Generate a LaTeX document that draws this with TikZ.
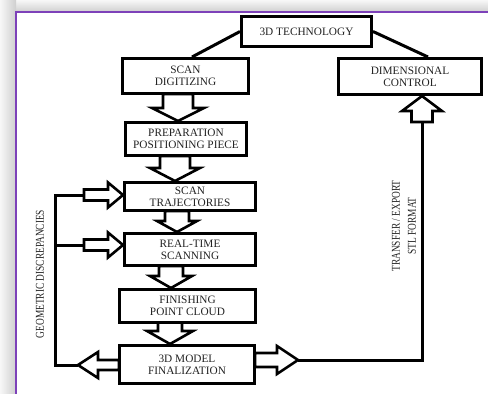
\documentclass[tikz,border=0pt]{standalone}
\usepackage{fontspec}
\usetikzlibrary{calc}
\newfontfamily\boxfont{Liberation Serif}
\newfontfamily\condfont[FakeStretch=0.78]{Liberation Serif}
\definecolor{framepurple}{RGB}{125,65,185}
\definecolor{inkgray}{RGB}{35,35,35}
\pgfdeclarelayer{bg}
\pgfdeclarelayer{mid}
\pgfsetlayers{bg,mid,main}
\tikzset{
  box/.style={draw=black, line width=3pt, fill=white, align=center, inner sep=0pt,
    text=inkgray, font={\boxfont\fontsize{11.3}{12}\selectfont}},
  hollow/.style={draw=black, line width=2.6pt, fill=white, line join=miter},
  conn/.style={draw=black, line width=3pt},
  rotlabel/.style={rotate=90, align=center, text=inkgray, inner sep=0pt,
    font={\condfont\fontsize{12}{16}\selectfont}},
}
\begin{document}
\begin{tikzpicture}[x=1pt,y=-1pt]
\useasboundingbox (0,0) rectangle (488,394);
\begin{pgfonlayer}{bg}
  \fill[white] (-4,-4) rectangle (494,400);
  \shade[top color=gray!6, bottom color=gray!38] (0,0) rectangle (488,12);
  \shade[left color=gray!6, right color=gray!38] (0,0) rectangle (16,394);
  \draw[framepurple, line width=1.8pt] (16,398) -- (16,12) -- (494,12);
\end{pgfonlayer}

% boxes
\node[box, minimum width=130pt, minimum height=30pt] (tech) at (306.5,31.5) {3D TECHNOLOGY};
\node[box, minimum width=126pt, minimum height=35pt] (scan) at (185.5,76) {SCAN\\DIGITIZING};
\node[box, minimum width=143pt, minimum height=36pt] (dim) at (410,76.5) {DIMENSIONAL\\CONTROL};
\node[box, minimum width=121pt, minimum height=33pt] (prep) at (186,139) {PREPARATION\\POSITIONING PIECE};
\node[box, minimum width=131pt, minimum height=28pt] (traj) at (190,196.5) {SCAN\\TRAJECTORIES};
\node[box, minimum width=131pt, minimum height=32pt] (real) at (190,249.5) {REAL-TIME\\SCANNING};
\node[box, minimum width=136pt, minimum height=33pt] (fin) at (187.5,306) {FINISHING\\POINT CLOUD};
\node[box, minimum width=135pt, minimum height=38pt] (model) at (187,364.5) {3D MODEL\\FINALIZATION};

% labels
\node[rotlabel] (geo) at (40,274) {GEOMETRIC DISCREPANCIES};
\node[rotlabel] (stl) at (404,226) {TRANSFER / EXPORT\\STL FORMAT};

% helper coordinates
\coordinate (a6tail) at ($(traj.west)+(-39,-1.5)$);
\coordinate (a7tail) at ($(real.west)+(-39,-4.5)$);
\coordinate (mtip) at ($(model.west)+(-40,0.5)$);
\coordinate (fbcorner) at (55,365);
\coordinate (fbtop) at (55,195);
\coordinate (rtip) at ($(model.east)+(42,-4.5)$);
\coordinate (dbot) at ($(dim.south)+(12,26)$);

\begin{pgfonlayer}{mid}
  % connectors from 3D technology
  \draw[conn] (tech.west) -- ($(scan.north)+(6.5,0)$);
  \draw[conn] (tech.east) -- ($(dim.north)+(18,0)$);

  % downward block arrows
  \draw[hollow] ($(prep.north)+(-8,0)$) -- ++(-26,-13) -- ++(11,0) -- ++(0,-14) -- ++(30,0) -- ++(0,14) -- ++(11,0) -- cycle;
  \draw[hollow] ($(traj.north)+(-15,0)$) -- ++(-25,-13) -- ++(10,0) -- ++(0,-12) -- ++(30,0) -- ++(0,12) -- ++(10,0) -- cycle;
  \draw[hollow] ($(real.north)+(-13,0)$) -- ++(-20,-11) -- ++(8,0) -- ++(0,-10) -- ++(24,0) -- ++(0,10) -- ++(8,0) -- cycle;
  \draw[hollow] ($(fin.north)+(-16.5,0)$) -- ++(-21,-12) -- ++(9,0) -- ++(0,-10) -- ++(24,0) -- ++(0,10) -- ++(9,0) -- cycle;
  \draw[hollow] ($(model.north)+(-17,0)$) -- ++(-23,-13) -- ++(11,0) -- ++(0,-9) -- ++(24,0) -- ++(0,9) -- ++(11,0) -- cycle;

  % feedback arrows into the boxes
  \draw[hollow] ($(traj.west)+(0,-1.5)$) -- ++(-15,-12.5) -- ++(0,7) -- ++(-24,0) -- ++(0,11) -- ++(24,0) -- ++(0,7) -- cycle;
  \draw[hollow] ($(real.west)+(0,-4.5)$) -- ++(-15,-12.5) -- ++(0,7) -- ++(-24,0) -- ++(0,11) -- ++(24,0) -- ++(0,7) -- cycle;

  % arrow out of the model to the left
  \draw[hollow] ($(model.west)+(1,0.5)$) -- ++(0,-5) -- ++(-21,0) -- ++(0,-8) -- (mtip) -- ++(20,13) -- ++(0,-8) -- ++(21,0) -- cycle;
  % arrow out of the model to the right
  \draw[hollow] ($(model.east)+(-1,-4.5)$) -- ++(0,-7) -- ++(22,0) -- ++(0,-7) -- (rtip) -- ++(-21,14) -- ++(0,-7) -- ++(-22,0) -- cycle;
  % arrow up into dimensional control
  \draw[hollow] ($(dim.south)+(12,0)$) -- ++(-20,15) -- ++(9.5,0) -- ++(0,11) -- ++(21,0) -- ++(0,-11) -- ++(9.5,0) -- cycle;

  % feedback loop lines
  \draw[conn] (mtip) -- (fbcorner) -- (fbtop) -- (a6tail);
  \draw[conn] (fbtop |- a7tail) -- (a7tail);
  % export line
  \draw[conn] (rtip) -| (dbot);
\end{pgfonlayer}
\end{tikzpicture}
\end{document}
